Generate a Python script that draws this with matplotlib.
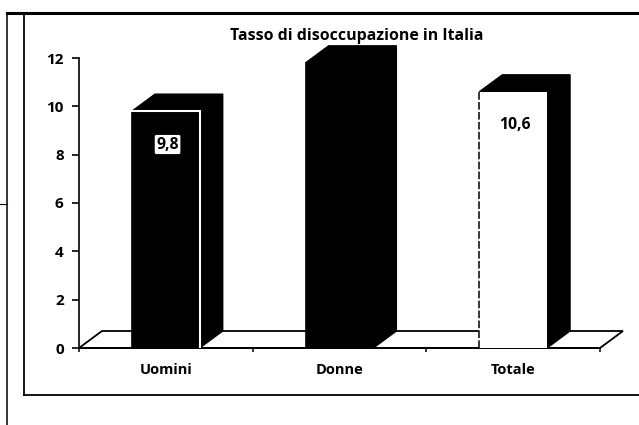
import matplotlib
matplotlib.use("Agg")
import matplotlib.pyplot as plt
from matplotlib.patches import Polygon
from matplotlib.lines import Line2D

categories = ["Uomini", "Donne", "Totale"]
values = [9.8, 11.8, 10.6]
labels = ["9,8", None, "10,6"]
front_colors = ["black", "black", "white"]
y_ticks = [0, 2, 4, 6, 8, 10, 12]
title = "Tasso di disoccupazione in Italia"

W, H = 639, 425
plt.rcParams["font.family"] = ["Open Sans", "DejaVu Sans"]
fig = plt.figure(figsize=(W / 100, H / 100), dpi=100, facecolor="white")
ax = fig.add_axes([79 / W, 1 - 348 / H, (600 - 79) / W, (348 - 58) / H])
ax.set_xlim(0, 3)
ax.set_ylim(0, 12)
ax.patch.set_visible(False)

dx = 23 / (521 / 3)      # depth offset in data units
dy = 17 / (290 / 12)
bw = 0.39

# floor
ax.add_patch(Polygon([(0, 0), (dx, dy), (3 + dx, dy), (3, 0)], closed=True,
                     fc="white", ec="black", lw=1.3, clip_on=False, zorder=1))

for i, (v, c, lab) in enumerate(zip(values, front_colors, labels)):
    x0, x1 = i + .5 - bw / 2, i + .5 + bw / 2
    # side and top faces
    ax.add_patch(Polygon([(x1, 0), (x1 + dx, dy), (x1 + dx, v + dy), (x1, v)],
                         fc="black", ec="black", lw=1, clip_on=False, zorder=2))
    ax.add_patch(Polygon([(x0, v), (x0 + dx, v + dy), (x1 + dx, v + dy), (x1, v)],
                         fc="black", ec="black", lw=1, clip_on=False, zorder=2))
    # front face
    ax.add_patch(Polygon([(x0, 0), (x0, v), (x1, v), (x1, 0)],
                         fc=c, ec="black" if c == "black" else "none", lw=1.2,
                         clip_on=False, zorder=3))
    if c == "white":
        ax.plot([x0, x0], [0, v], color="black", lw=1.1, ls=(0, (5, 1.5)), zorder=4)
    elif i == 0:
        ax.plot([x0, x1, x1], [v, v, 0], color="white", lw=1.5, zorder=4,
                solid_joinstyle="miter")
    if lab:
        box = dict(boxstyle="round,pad=0.1", fc="white", ec="none") if c == "black" else None
        ax.text(i + .5 + .01, v - 1.38, lab, ha="center", va="center", fontsize=11.3,
                fontweight="bold", color="black", bbox=box, zorder=5)

for s in ["top", "right"]:
    ax.spines[s].set_visible(False)
ax.spines["left"].set_linewidth(1.2)
ax.spines["bottom"].set_linewidth(1.3)
ax.set_yticks(y_ticks)
ax.set_yticklabels([str(t) for t in y_ticks], fontweight="bold", fontsize=11)
ax.set_xticks([0, 1, 2, 3])
ax.set_xticklabels([])
ax.tick_params(axis="y", length=5, width=1.2, pad=6)
ax.tick_params(axis="x", length=3, width=1.1)
for i, c in enumerate(categories):
    ax.text(i + .5, -0.92, c, ha="center", va="center", fontsize=10.5, fontweight="bold")

fig.text(356.5 / W, 1 - 36 / H, title, ha="center", va="center", fontsize=11.4,
         fontweight="bold", color="black")

# scanned page frames
def frame(xs, ys, lw):
    fig.add_artist(Line2D([x / W for x in xs], [1 - y / H for y in ys],
                          color="black", lw=lw, transform=fig.transFigure))
frame([7, 639], [13, 13], 2.2)
frame([7, 7], [13, 425], 1.1)
frame([0, 7], [204, 204], 0.8)
frame([24, 24], [13, 395], 1.3)
frame([24, 639], [395, 395], 1.3)

fig.savefig("out.png", dpi=100)
